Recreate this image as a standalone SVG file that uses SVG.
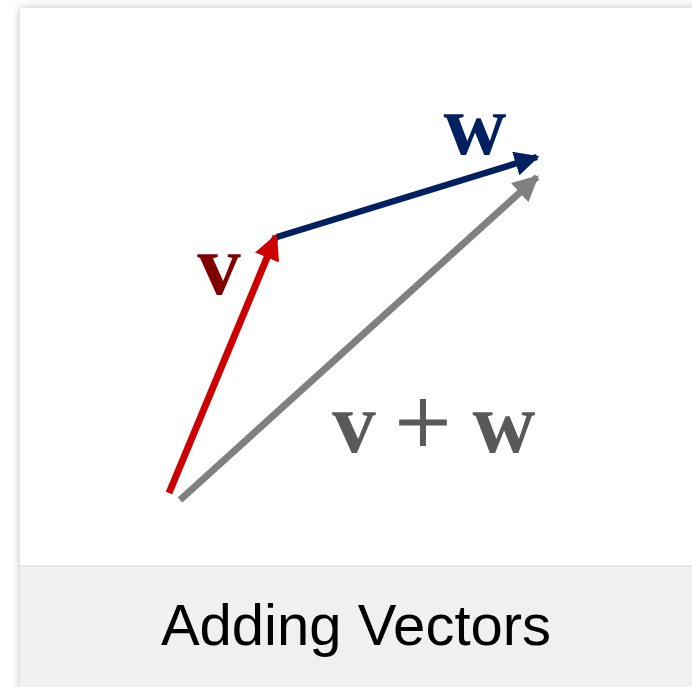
<svg xmlns="http://www.w3.org/2000/svg" width="692" height="687" viewBox="0 0 692 687">
<defs>
<filter id="sh" x="-10%" y="-10%" width="120%" height="120%">
<feGaussianBlur stdDeviation="5"/>
</filter>
<marker id="arR" viewBox="0 0 10 10" refX="9" refY="5" markerWidth="3.7" markerHeight="3.7" orient="auto" markerUnits="strokeWidth">
<path d="M0,0 L10,5 L0,10 Z" fill="#cc0000"/>
</marker>
<marker id="arB" viewBox="0 0 10 10" refX="9" refY="5" markerWidth="3.8" markerHeight="3.8" orient="auto" markerUnits="strokeWidth">
<path d="M0,0 L10,5 L0,10 Z" fill="#002060"/>
</marker>
<marker id="arG" viewBox="0 0 10 10" refX="9" refY="5" markerWidth="3.7" markerHeight="3.7" orient="auto" markerUnits="strokeWidth">
<path d="M0,0 L10,5 L0,10 Z" fill="#808080"/>
</marker>
</defs>
<style>
.lbl{font-family:"Liberation Serif","Times New Roman",serif;font-weight:bold;font-size:87px;}
.plus{font-family:"Liberation Serif","Times New Roman",serif;font-size:100px;stroke:#595959;stroke-width:1;}
.cap{font-family:"Liberation Sans",Arial,sans-serif;font-size:58px;fill:#000;}
</style>
<g id="card">
<rect x="20" y="8" width="690" height="690" fill="#000" opacity="0.25" filter="url(#sh)"/>
<rect x="20" y="8" width="680" height="690" fill="#ffffff"/>
<rect x="20" y="566" width="680" height="130" fill="#f0f0f0"/>
<line x1="20" y1="566" x2="692" y2="566" stroke="#e2e2e2" stroke-width="1.5"/>
</g>
<g id="connectors" fill="none" stroke-linecap="butt">
<line x1="169" y1="493" x2="276" y2="236" stroke="#cc0000" stroke-width="7" marker-end="url(#arR)"/>
<line x1="277" y1="237" x2="537" y2="157" stroke="#002060" stroke-width="6.5" marker-end="url(#arB)"/>
<line x1="180" y1="500" x2="537" y2="177" stroke="#808080" stroke-width="7" marker-end="url(#arG)"/>
</g>
<g id="label-v"><text class="lbl" x="219" y="294" fill="#800000" text-anchor="middle">v</text></g>
<g id="label-w"><text class="lbl" x="475" y="154" fill="#002060" text-anchor="middle">w</text></g>
<g id="label-vw" fill="#595959">
<text class="lbl" x="354" y="452" text-anchor="middle">v</text>
<text class="plus" x="423" y="456" text-anchor="middle">+</text>
<text class="lbl" x="504" y="452" text-anchor="middle">w</text>
</g>
<g id="caption"><text class="cap" x="356" y="645" text-anchor="middle">Adding Vectors</text></g>
</svg>
